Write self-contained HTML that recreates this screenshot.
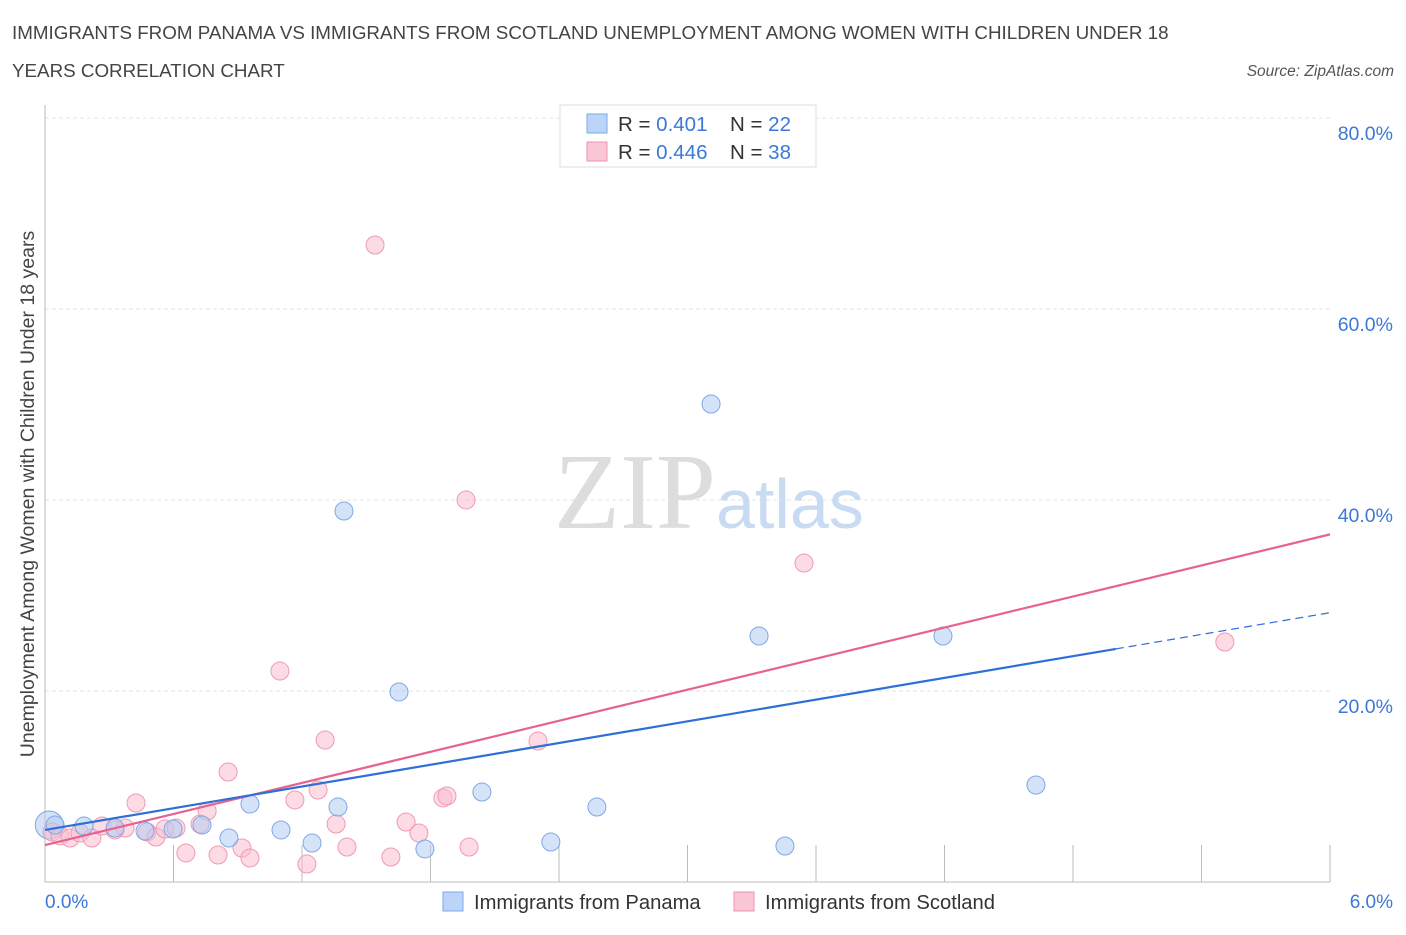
<!DOCTYPE html>
<html><head><meta charset="utf-8"><style>
body{margin:0;background:#fff;font-family:"Liberation Sans",sans-serif;}
</style></head><body>
<svg id="c" width="1406" height="930" xmlns="http://www.w3.org/2000/svg">
<text x="12" y="39" font-size="18.8" fill="#444">IMMIGRANTS FROM PANAMA VS IMMIGRANTS FROM SCOTLAND UNEMPLOYMENT AMONG WOMEN WITH CHILDREN UNDER 18</text>
<text x="12" y="77" font-size="18.8" fill="#444">YEARS CORRELATION CHART</text>
<text x="1394" y="76" font-size="15.5" fill="#555" font-style="italic" text-anchor="end">Source: ZipAtlas.com</text>
<text x="34" y="494" font-size="19.5" fill="#444" text-anchor="middle" transform="rotate(-90 34 494)">Unemployment Among Women with Children Under 18 years</text>
<g id="grid"></g>
<text x="716" y="528" font-size="108" fill="#ddd" text-anchor="end" font-family="Liberation Serif,serif">ZIP</text>
<text x="716" y="528" font-size="70" fill="#c9daf3">atlas</text>
<g id="pts"></g>
<g id="lines"></g>
<g>
<rect x="560" y="105" width="256" height="62" fill="#fff" stroke="#ddd"/>
<rect x="587" y="114" width="20" height="19" fill="#bcd4f7" stroke="#7ea8e8"/>
<rect x="587" y="142" width="20" height="19" fill="#f9c6d5" stroke="#ee93b1"/>
<text x="618" y="131" font-size="20.5" fill="#333">R = <tspan fill="#3b78d8">0.401</tspan></text>
<text x="730" y="131" font-size="20.5" fill="#333">N = <tspan fill="#3b78d8">22</tspan></text>
<text x="618" y="159" font-size="20.5" fill="#333">R = <tspan fill="#3b78d8">0.446</tspan></text>
<text x="730" y="159" font-size="20.5" fill="#333">N = <tspan fill="#3b78d8">38</tspan></text>
</g>
<g>
<rect x="443" y="892" width="20" height="19" fill="#bcd4f7" stroke="#7ea8e8"/>
<text x="474" y="909" font-size="20.2" fill="#333">Immigrants from Panama</text>
<rect x="734" y="892" width="20" height="19" fill="#f9c6d5" stroke="#ee93b1"/>
<text x="765" y="909" font-size="20.2" fill="#333">Immigrants from Scotland</text>
</g>
<text x="45" y="908" font-size="19" fill="#3b78d8">0.0%</text>
<text x="1393" y="908" font-size="19" fill="#3b78d8" text-anchor="end">6.0%</text>
</svg>
<script>
const yTicks=[20,40,60,80];
const yTickLabels=["20.0%","40.0%","60.0%","80.0%"];
const xTicks=[0,0.6,1.2,1.8,2.4,3.0,3.6,4.2,4.8,5.4,6.0];
const panamaX=[0.047,0.182,0.327,0.467,0.598,0.733,0.859,0.957,1.102,1.247,1.368,1.396,1.653,1.774,2.040,2.362,2.577,3.110,3.334,3.455,4.193,4.627];
const panamaY=[5.97,5.86,5.65,5.34,5.55,5.97,4.61,8.17,5.45,4.08,7.85,38.85,19.9,3.46,9.42,4.19,7.85,50.05,25.76,3.77,25.76,10.16];
const scotX=[0.033,0.070,0.117,0.163,0.219,0.266,0.327,0.374,0.425,0.476,0.518,0.560,0.612,0.658,0.724,0.757,0.808,0.855,0.920,0.957,1.097,1.167,1.223,1.275,1.308,1.359,1.410,1.541,1.615,1.686,1.746,1.858,1.877,1.966,1.980,2.302,3.544,5.509];
const scotY=[5.24,4.82,4.61,5.13,4.61,5.86,5.45,5.65,8.27,5.24,4.71,5.55,5.65,3.04,6.07,7.43,2.83,11.52,3.56,2.51,22.09,8.59,1.88,9.63,14.87,6.07,3.66,66.7,2.62,6.28,5.13,8.80,9.01,40.0,3.66,14.76,33.40,25.13];
const blueLine=[5.45,28.2];
const blueSolidEnd=5.0;
const pinkLine=[3.87,36.4];
const NS="http://www.w3.org/2000/svg";
const X=v=>45+v/6*1285, Y=v=>882-v/20*191;
function mk(t,a,p){const e=document.createElementNS(NS,t);for(const k in a)e.setAttribute(k,a[k]);p.appendChild(e);return e;}
const grid=document.getElementById('grid');
yTicks.forEach((t,i)=>{
 const l=mk('line',{x1:45,x2:1330,y1:Y(t),y2:Y(t),stroke:'#e3e3e3','stroke-dasharray':'4,3'},grid);
 
 
 const tx=mk('text',{x:1393,y:Y(t)+22,'font-size':19.5,fill:'#3b78d8','text-anchor':'end'},grid);
 tx.textContent=yTickLabels[i];
 
 
});
mk('line',{x1:45,x2:1330,y1:118,y2:118,stroke:'#e3e3e3','stroke-dasharray':'4,3'},grid);
mk('line',{x1:45,x2:45,y1:105,y2:882,stroke:'#bbb'},grid);
mk('line',{x1:45,x2:1330,y1:882,y2:882,stroke:'#bbb'},grid);
xTicks.forEach(t=>{const l=mk('line',{x1:X(t),x2:X(t),y1:845,y2:882,stroke:'#bbb'},grid);
 
 });
const pts=document.getElementById('pts');
const ob=mk('circle',{cx:X(0.02),cy:Y(5.97),r:14,fill:'rgba(178,200,240,0.55)',stroke:'#7ea8e8'},pts);


scotX.forEach((x,i)=>{const c=mk('circle',{cx:X(x),cy:Y(scotY[i]),r:9,fill:'rgba(249,190,208,0.55)',stroke:'#ee9ab5'},pts);
 
 });
panamaX.forEach((x,i)=>{const c=mk('circle',{cx:X(x),cy:Y(panamaY[i]),r:9,fill:'rgba(178,204,242,0.55)',stroke:'#7ea8e8'},pts);
 
 });
const lines=document.getElementById('lines');
const bAt=x=>blueLine[0]+(blueLine[1]-blueLine[0])*x/6;
const pAt=x=>pinkLine[0]+(pinkLine[1]-pinkLine[0])*x/6;
let l1=mk('line',{x1:X(0),y1:Y(pAt(0)),x2:X(6),y2:Y(pAt(6)),stroke:'#e8628f','stroke-width':2.2},lines);


let l2=mk('line',{x1:X(0),y1:Y(bAt(0)),x2:X(blueSolidEnd),y2:Y(bAt(blueSolidEnd)),stroke:'#2f6fd6','stroke-width':2.2},lines);


let l3=mk('line',{x1:X(blueSolidEnd),y1:Y(bAt(blueSolidEnd)),x2:X(6),y2:Y(bAt(6)),stroke:'#2f6fd6','stroke-width':1.2,'stroke-dasharray':'8,5'},lines);


</script>
</body></html>
